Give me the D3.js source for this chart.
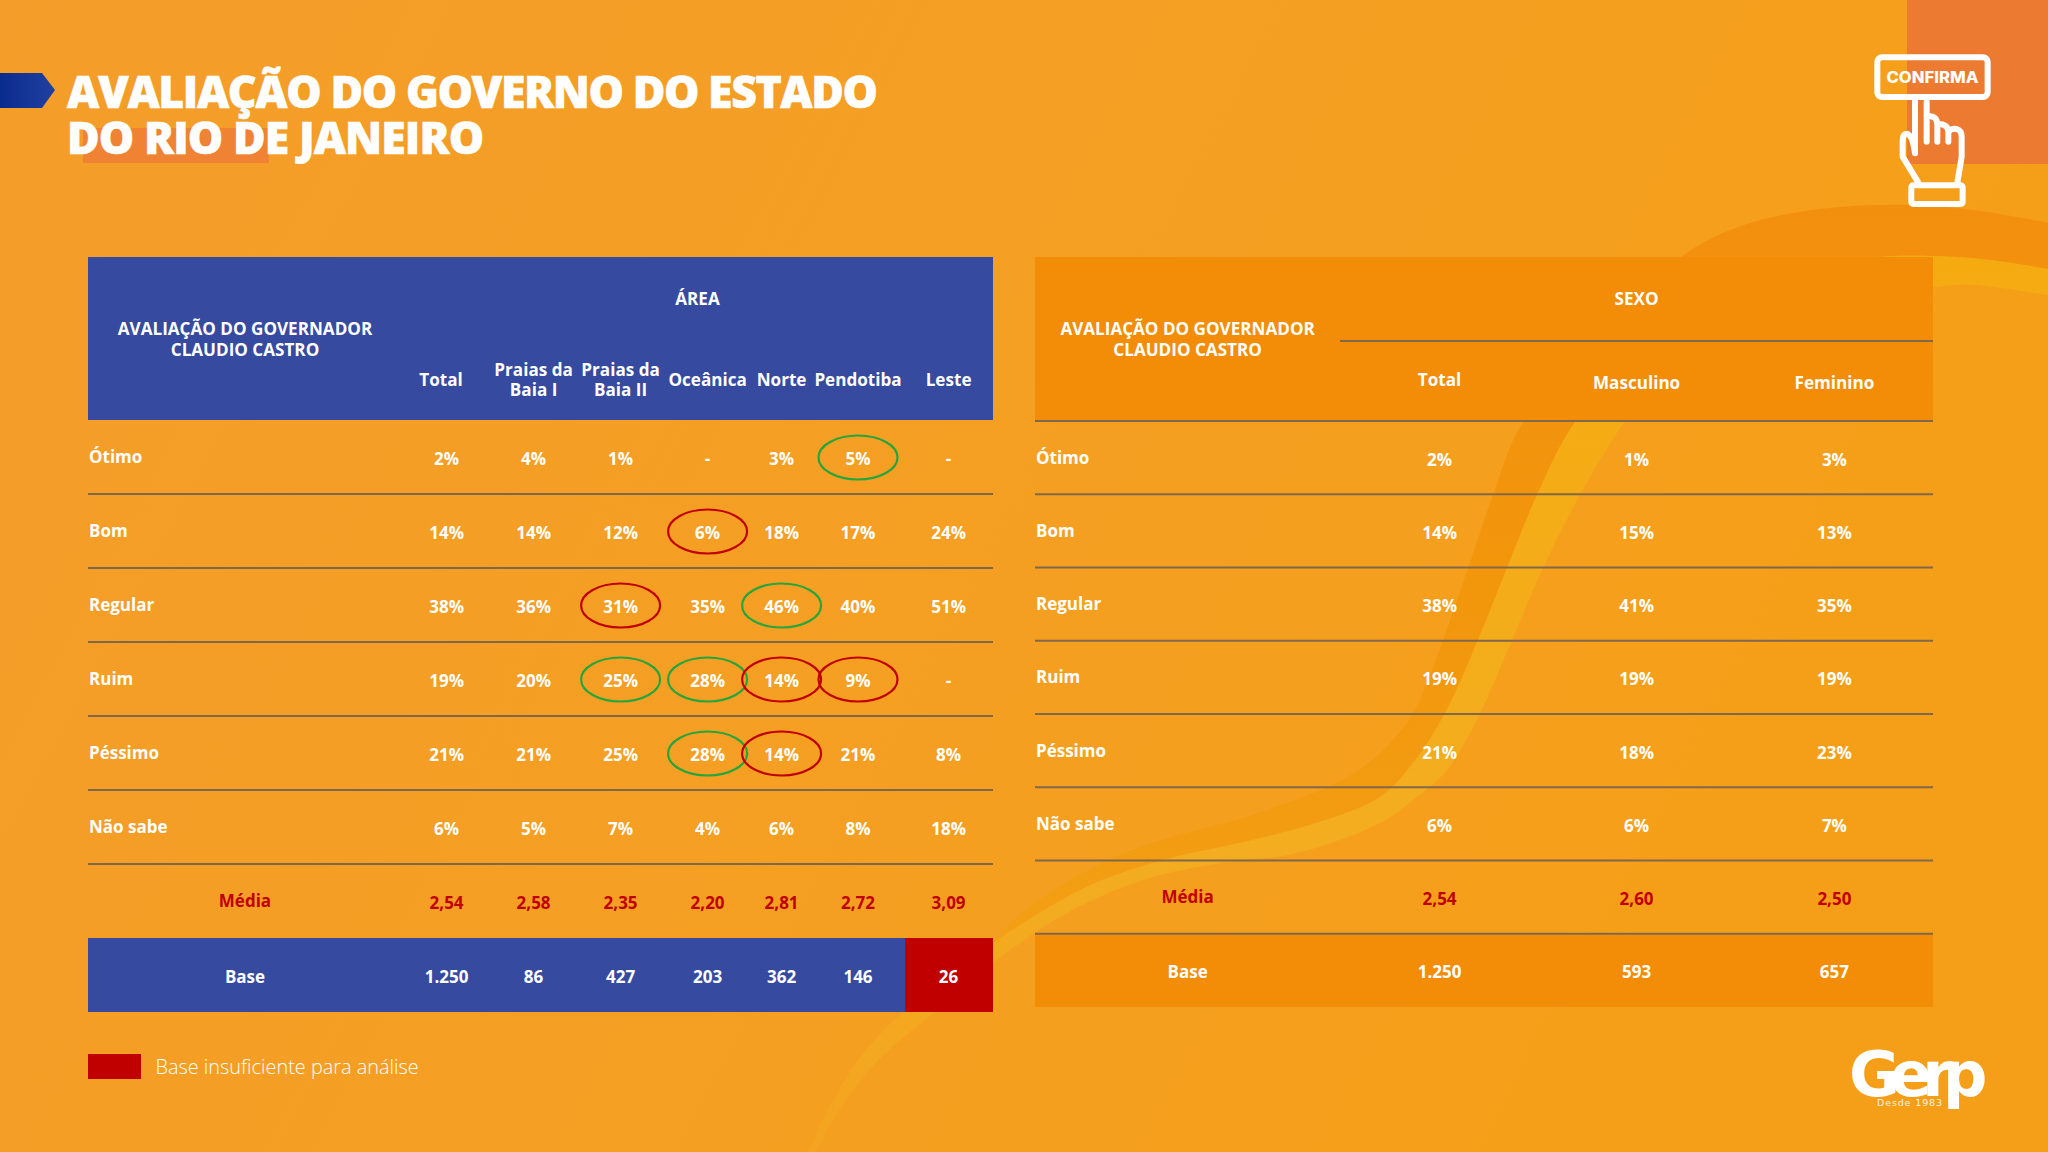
<!DOCTYPE html>
<html lang="pt-BR">
<head>
<meta charset="utf-8">
<title>Avaliação do Governo do Estado do Rio de Janeiro</title>
<script src="https://cdn.jsdelivr.net/npm/d3@7"></script>
<style>
  html, body { margin: 0; padding: 0; background: #f5a023; }
  svg { display: block; }
  text { font-family: "Open Sans", sans-serif; fill: #fff; }
</style>
</head>
<body>
<div id="chart"></div>
<script>
// chart values
const titleLines = ["AVALIAÇÃO DO GOVERNO DO ESTADO", "DO RIO DE JANEIRO"];
const stubTitle = ["AVALIAÇÃO DO GOVERNADOR", "CLAUDIO CASTRO"];
const ratings = ["Ótimo", "Bom", "Regular", "Ruim", "Péssimo", "Não sabe"];

const areaColumns = ["Total", "Praias da Baia I", "Praias da Baia II", "Oceânica", "Norte", "Pendotiba", "Leste"];
const areaOtimo = [2, 4, 1, null, 3, 5, null];
const areaBom = [14, 14, 12, 6, 18, 17, 24];
const areaRegular = [38, 36, 31, 35, 46, 40, 51];
const areaRuim = [19, 20, 25, 28, 14, 9, null];
const areaPessimo = [21, 21, 25, 28, 14, 21, 8];
const areaNaoSabe = [6, 5, 7, 4, 6, 8, 18];
const areaMedia = [2.54, 2.58, 2.35, 2.20, 2.81, 2.72, 3.09];
const areaBase = [1250, 86, 427, 203, 362, 146, 26];

const sexoColumns = ["Total", "Masculino", "Feminino"];
const sexoOtimo = [2, 1, 3];
const sexoBom = [14, 15, 13];
const sexoRegular = [38, 41, 35];
const sexoRuim = [19, 19, 19];
const sexoPessimo = [21, 18, 23];
const sexoNaoSabe = [6, 6, 7];
const sexoMedia = [2.54, 2.60, 2.50];
const sexoBase = [1250, 593, 657];

// [rating, column] cells circled in the area table
const greenCells = [["Ótimo", "Pendotiba"], ["Regular", "Norte"], ["Ruim", "Praias da Baia II"], ["Ruim", "Oceânica"], ["Péssimo", "Oceânica"]];
const redCells = [["Bom", "Oceânica"], ["Regular", "Praias da Baia II"], ["Ruim", "Norte"], ["Ruim", "Pendotiba"], ["Péssimo", "Norte"]];
const lowBaseColumn = "Leste";

const BLUE = "#364aa0";
const ORANGE = "#f38d07";
const RED = "#c00000";
const GREEN = "#25a63c";
const RULE = "#80694a";

const ptBR = d3.formatLocale({ decimal: ",", thousands: ".", grouping: [3], currency: ["", ""] });
const fmtPct = v => v === null ? "-" : `${v}%`;
const fmtMedia = ptBR.format(".2f");
const fmtBase = ptBR.format(",d");

const svg = d3.select("#chart").append("svg").attr("width", 2048).attr("height", 1152);
const defs = svg.append("defs");

const bgGrad = defs.append("linearGradient").attr("id", "bg").attr("x1", 0).attr("y1", 0).attr("x2", 1).attr("y2", 0.3);
bgGrad.append("stop").attr("offset", 0).attr("stop-color", "#f49d2a");
bgGrad.append("stop").attr("offset", 0.6).attr("stop-color", "#f59f22");
bgGrad.append("stop").attr("offset", 1).attr("stop-color", "#f59f18");

const arrowGrad = defs.append("linearGradient").attr("id", "arrow");
arrowGrad.append("stop").attr("offset", 0).attr("stop-color", "#0a2b8e");
arrowGrad.append("stop").attr("offset", 1).attr("stop-color", "#2140a0");

const darkGrad = defs.append("linearGradient").attr("id", "ribbonDark")
  .attr("gradientUnits", "userSpaceOnUse").attr("x1", 0).attr("y1", 200).attr("x2", 0).attr("y2", 950);
darkGrad.append("stop").attr("offset", 0).attr("stop-color", "#f38f0e");
darkGrad.append("stop").attr("offset", 0.5).attr("stop-color", "#f2960c");
darkGrad.append("stop").attr("offset", 1).attr("stop-color", "#f39f14");

const yellowGrad = defs.append("linearGradient").attr("id", "ribbonYellow")
  .attr("gradientUnits", "userSpaceOnUse").attr("x1", 0).attr("y1", 250).attr("x2", 0).attr("y2", 1152);
yellowGrad.append("stop").attr("offset", 0).attr("stop-color", "#f5ab10");
yellowGrad.append("stop").attr("offset", 0.65).attr("stop-color", "#f3ad1f");
yellowGrad.append("stop").attr("offset", 1).attr("stop-color", "#f4a420");

// background and ribbon
svg.append("rect").attr("width", 2048).attr("height", 1152).attr("fill", "url(#bg)");
svg.append("rect").attr("x", 1907).attr("y", 0).attr("width", 141).attr("height", 164).attr("fill", "#ec7a30");

const ribbon = d3.line().curve(d3.curveCatmullRom);
const darkEdge = [[2060, 225], [1973, 210], [1907, 205], [1840, 207], [1773, 217], [1723, 233], [1680, 258], [1600, 340], [1523, 422], [1493, 495], [1468, 568], [1443, 640], [1413, 713], [1380, 753], [1342, 780], [1258, 813], [1124, 853], [1029, 907], [990, 945]];
const midEdge = [[2060, 271], [1990, 260], [1933, 256], [1867, 258], [1760, 280], [1650, 340], [1575, 422], [1537, 495], [1507, 568], [1478, 640], [1445, 713], [1413, 763], [1380, 797], [1316, 823], [1239, 843], [1163, 860], [1086, 887], [1017, 927], [990, 945]];
const midTail = [[990, 945], [902, 1013], [856, 1063], [818, 1130], [805, 1160]];
const yellowEdge = [[2060, 297], [1973, 285], [1933, 287], [1800, 295], [1700, 340], [1625, 422], [1580, 495], [1543, 568], [1512, 640], [1480, 713], [1447, 770], [1413, 800], [1380, 823], [1297, 853], [1220, 863], [1143, 880], [1067, 913], [1006, 953], [933, 1013], [876, 1063], [837, 1113], [812, 1160]];
svg.append("path")
  .attr("d", ribbon(darkEdge) + "L" + ribbon(midEdge.slice().reverse()).slice(1) + "Z")
  .attr("fill", "url(#ribbonDark)");
svg.append("path")
  .attr("d", ribbon([...midEdge.slice(0, -1), ...midTail]) + "L" + ribbon(yellowEdge.slice().reverse()).slice(1) + "Z")
  .attr("fill", "url(#ribbonYellow)");

// title
svg.append("path").attr("d", "M0,73H42L55,90L42,108H0Z").attr("fill", "url(#arrow)");
svg.append("rect").attr("x", 83).attr("y", 128).attr("width", 186).attr("height", 35).attr("fill", "#ef8233");
svg.selectAll("text.title").data(titleLines).join("text")
  .attr("class", "title")
  .attr("x", 67)
  .attr("y", (d, i) => 108 + i * 45.5)
  .attr("font-size", 44.5)
  .attr("font-weight", 800)
  .attr("letter-spacing", (d, i) => i === 0 ? -1.4 : -0.9)
  .attr("stroke", "#fff")
  .attr("stroke-width", 0.6)
  .text(d => d);

function cellText(g, x, y, str, size, weight, color) {
  return g.append("text")
    .attr("x", x)
    .attr("y", y)
    .attr("text-anchor", "middle")
    .attr("dominant-baseline", "central")
    .attr("font-size", size)
    .attr("font-weight", weight)
    .style("fill", color || "#fff")
    .text(str);
}

function drawTable(cfg) {
  const g = svg.append("g");
  const x = d3.scaleOrdinal().domain(cfg.columns).range(cfg.columnX);
  const y = d3.scaleBand().domain([...ratings, "Média", "Base"]).range([cfg.top, cfg.bottom]);

  g.append("rect").attr("x", cfg.left).attr("y", 257).attr("width", cfg.right - cfg.left).attr("height", cfg.top - 257).attr("fill", cfg.fill);
  g.append("rect").attr("x", cfg.left).attr("y", y("Base")).attr("width", cfg.right - cfg.left).attr("height", y.bandwidth()).attr("fill", cfg.fill);

  // rules under every row
  g.selectAll("line.rule").data(cfg.ruled).join("line")
    .attr("class", "rule")
    .attr("x1", cfg.left)
    .attr("x2", cfg.right)
    .attr("y1", d => y(d) + y.bandwidth())
    .attr("y2", d => y(d) + y.bandwidth())
    .attr("stroke", RULE)
    .attr("stroke-width", 2);

  // header
  stubTitle.forEach((t, i) => cellText(g, cfg.stubX, 328.5 + i * 21, t, 17.1, 700));
  cellText(g, cfg.groupX, 298.5, cfg.group, 17.1, 700);
  cfg.columns.forEach(c => {
    const parts = c.startsWith("Praias") ? [c.slice(0, 9), c.slice(10)] : [c];
    parts.forEach((p, i) => {
      const py = parts.length === 2 ? 369 + i * 20 : cfg.headerY(c);
      cellText(g, x(c) + cfg.headerDx(c), py, p, 17.1, 700);
    });
  });

  // rating rows
  ratings.forEach((r, ri) => {
    g.append("text")
      .attr("x", cfg.left + 1)
      .attr("y", y(r) + y.bandwidth() / 2 - 0.5)
      .attr("dominant-baseline", "central")
      .attr("font-size", 17)
      .attr("font-weight", 700)
      .text(r);
    cfg.columns.forEach((c, ci) => {
      cellText(g, x(c), y(r) + y.bandwidth() / 2 + 1.5, fmtPct(cfg.rows[ri][ci]), 17, 700);
    });
  });

  // média and base
  cellText(g, cfg.stubX, y("Média") + y.bandwidth() / 2 - 0.5, "Média", 17, 700, RED);
  cellText(g, cfg.stubX, y("Base") + y.bandwidth() / 2 + 1, "Base", 17, 700);
  cfg.columns.forEach((c, ci) => {
    cellText(g, x(c), y("Média") + y.bandwidth() / 2 + 1, fmtMedia(cfg.media[ci]), 17, 700, RED);
    if (c === cfg.lowBase) {
      g.append("rect")
        .attr("x", x(c) - 43.5)
        .attr("y", y("Base"))
        .attr("width", cfg.right - x(c) + 43.5)
        .attr("height", y.bandwidth())
        .attr("fill", RED);
    }
    cellText(g, x(c), y("Base") + y.bandwidth() / 2 + 1, fmtBase(cfg.base[ci]), 17, 700);
  });

  // circled cells
  const rings = [...cfg.green.map(d => [d, GREEN]), ...cfg.red.map(d => [d, RED])];
  g.selectAll("ellipse").data(rings).join("ellipse")
    .attr("cx", d => x(d[0][1]))
    .attr("cy", d => y(d[0][0]) + y.bandwidth() / 2 + 0.5)
    .attr("rx", 39.5)
    .attr("ry", 22)
    .attr("fill", "none")
    .attr("stroke", d => d[1])
    .attr("stroke-width", 2.2);

  return { x, y, g };
}

drawTable({
  left: 88, right: 993, top: 420, bottom: 1012, fill: BLUE,
  stubX: 245, groupX: 697.5, group: "ÁREA",
  columns: areaColumns,
  columnX: [446.6, 533.6, 620.6, 707.6, 781.6, 858, 948.6],
  headerY: () => 379,
  headerDx: c => c === "Total" ? -5.5 : 0,
  rows: [areaOtimo, areaBom, areaRegular, areaRuim, areaPessimo, areaNaoSabe],
  media: areaMedia, base: areaBase,
  ruled: ["Ótimo", "Bom", "Regular", "Ruim", "Péssimo", "Não sabe"],
  green: greenCells, red: redCells, lowBase: lowBaseColumn
});

const sexoTable = drawTable({
  left: 1035, right: 1933, top: 421, bottom: 1007, fill: ORANGE,
  stubX: 1187.6, groupX: 1636.6, group: "SEXO",
  columns: sexoColumns,
  columnX: [1439.6, 1636.6, 1834.4],
  headerY: c => c === "Total" ? 379.5 : 382,
  headerDx: () => 0,
  rows: [sexoOtimo, sexoBom, sexoRegular, sexoRuim, sexoPessimo, sexoNaoSabe],
  media: sexoMedia, base: sexoBase,
  ruled: ["Ótimo", "Bom", "Regular", "Ruim", "Péssimo", "Não sabe", "Média"],
  green: [], red: [], lowBase: null
});
[341, 421].forEach((ly, i) => {
  sexoTable.g.append("line")
    .attr("x1", i === 0 ? 1340 : 1035).attr("x2", 1933)
    .attr("y1", ly).attr("y2", ly)
    .attr("stroke", RULE).attr("stroke-width", 2);
});

// legend
svg.append("rect").attr("x", 88).attr("y", 1054).attr("width", 53).attr("height", 25).attr("fill", RED);
svg.append("text").attr("x", 155.5).attr("y", 1066).attr("dominant-baseline", "central")
  .attr("font-size", 19.9).attr("font-weight", 300)
  .text("Base insuficiente para análise");

// confirma badge
const badge = svg.append("g").attr("transform", "translate(1820,0) scale(0.3333)")
  .attr("fill", "none").attr("stroke", "#fff").attr("stroke-width", 18)
  .attr("stroke-linecap", "round").attr("stroke-linejoin", "round");
badge.append("rect").attr("x", 172).attr("y", 172).attr("width", 331).attr("height", 119).attr("rx", 14);
badge.append("path").attr("d", "M285,305V460M320,305V425M320,350C340,345 352,355 352,375V425M352,375C365,370 385,375 385,395V425M385,395C400,380 425,385 425,410V470L412,548M285,460C280,425 272,405 262,402C250,400 248,410 248,430V470L295,548");
badge.append("rect").attr("x", 274).attr("y", 556).attr("width", 154).attr("height", 56).attr("rx", 6);
svg.append("text").attr("x", 1932.5).attr("y", 77.5).attr("text-anchor", "middle").attr("dominant-baseline", "central")
  .style("font-family", "Inter, sans-serif")
  .attr("font-size", 15.5).attr("font-weight", 800).attr("textLength", 92).attr("lengthAdjust", "spacingAndGlyphs")
  .text("CONFIRMA");

// gerp logo
svg.append("text").attr("x", 1849).attr("y", 1096)
  .style("font-family", "'DejaVu Sans', sans-serif")
  .attr("font-size", 62).attr("font-weight", 700).attr("letter-spacing", -9.8)
  .text("Gerp");
svg.append("text").attr("x", 1877).attr("y", 1105.5)
  .style("font-family", "'DejaVu Sans', sans-serif")
  .attr("font-size", 9.5).attr("font-weight", 400).attr("textLength", 65).attr("opacity", 0.85)
  .text("Desde 1983");
</script>
</body>
</html>
